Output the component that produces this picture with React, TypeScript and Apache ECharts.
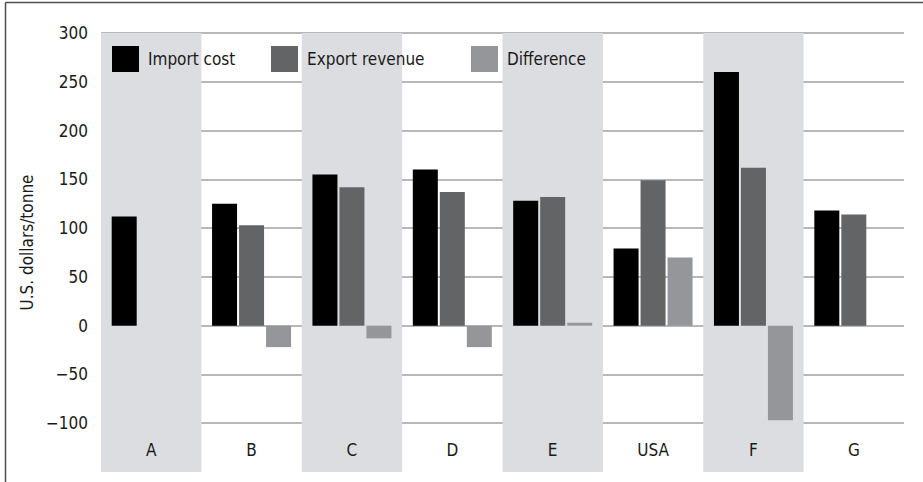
import React, { useEffect, useRef } from "react";
import * as echarts from "echarts";

const categories = ["A", "B", "C", "D", "E", "USA", "F", "G"];
const importCost = [112, 125, 155, 160, 128, 79, 260, 118];
const exportRevenue = [null, 103, 142, 137, 132, 149, 162, 114];
const difference = [null, -22, -13, -22, 3, 70, -97, null];
const seriesNames = ["Import cost", "Export revenue", "Difference"];
const seriesColors = ["#000000", "#636466", "#95969a"];

const FONT = "'DejaVu Sans Condensed', 'Liberation Sans Narrow', 'Noto Sans', sans-serif";

export default function App() {
  const ref = useRef<HTMLDivElement>(null);
  useEffect(() => {
    document.body.style.margin = "0";
    const chart = echarts.init(ref.current!, null, { renderer: "svg" });
    const legendLefts = [112, 271, 471];
    const dataSets = [importCost, exportRevenue, difference];
    chart.setOption({
      animation: false,
      backgroundColor: "#ffffff",
      textStyle: { fontFamily: FONT },
      legend: seriesNames.map((n, i) => ({
        data: [n],
        left: legendLefts[i],
        top: 46,
        padding: 0,
        icon: "rect",
        itemWidth: 27,
        itemHeight: 26,
        textStyle: { fontFamily: FONT, fontSize: 17, color: "#1a1a1a", padding: [0, 0, 0, 4] },
      })),
      grid: { left: 101, right: 19, top: 33, bottom: 10, containLabel: false },
      xAxis: {
        type: "category",
        data: categories,
        axisLine: { show: false },
        axisTick: { show: false },
        splitLine: { show: false },
        splitArea: {
          show: true,
          areaStyle: { color: ["#dcdde0", "rgba(255,255,255,0)"] },
        },
        axisLabel: { inside: true, margin: 14, fontFamily: FONT, fontSize: 17, color: "#1a1a1a" },
      },
      yAxis: {
        type: "value",
        min: -150,
        max: 300,
        interval: 50,
        name: "U.S. dollars/tonne",
        nameLocation: "middle",
        nameGap: 48,
        nameTextStyle: { fontFamily: FONT, fontSize: 17, color: "#1a1a1a", padding: [0, 0, 0, 20] },
        axisLine: { show: false },
        axisTick: { show: false },
        axisLabel: {
          showMinLabel: false,
          margin: 13,
          fontFamily: FONT,
          fontSize: 17,
          color: "#1a1a1a",
          formatter: (v: number) => (v < 0 ? "\u2212" + Math.abs(v) : String(v)),
        },
        splitLine: { show: true, showMinLine: false, lineStyle: { color: "#a0a0a0", width: 1.5 } },
      },
      series: seriesNames.map((n, i) => ({
        name: n,
        type: "bar",
        data: dataSets[i],
        barWidth: 25,
        barGap: "8%",
        itemStyle: { color: seriesColors[i] },
      })),
      graphic: [
        { type: "line", shape: { x1: 5.5, y1: 2.5, x2: 5.5, y2: 482 }, style: { stroke: "#4d4d4d", lineWidth: 1.5 } },
        { type: "line", shape: { x1: 5.5, y1: 2.5, x2: 923, y2: 2.5 }, style: { stroke: "#4d4d4d", lineWidth: 1.5 } },
      ],
    });
    return () => chart.dispose();
  }, []);
  return <div ref={ref} style={{ position: "absolute", left: 0, top: 0, width: 923, height: 482 }} />;
}
